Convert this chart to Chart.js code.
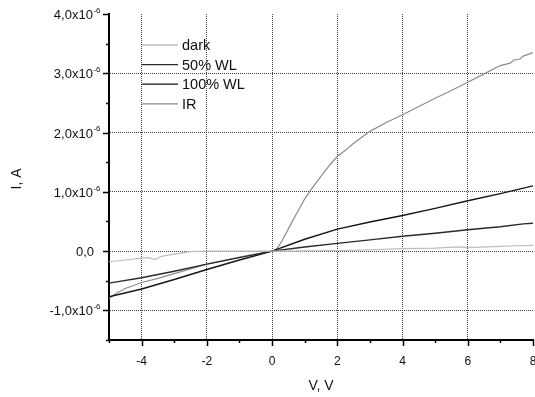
<!DOCTYPE html>
<html>
<head>
<meta charset="utf-8">
<script src="https://cdn.jsdelivr.net/npm/chart.js@4/dist/chart.umd.min.js"></script>
<style>
  html, body { margin: 0; padding: 0; background: #fff; }
  #wrap { width: 535px; height: 397px; }
</style>
</head>
<body>
<div id="wrap"><canvas id="iv"></canvas></div>
<script>
// current in units of 1e-6 A, voltage in V
const darkV = [-5, -4.5, -4, -3.8, -3.6, -3.5, -3.4, -3, -2.5, -2, -1, 0, 1, 2, 3, 4, 5, 5.7, 6, 7, 7.5, 8];
const darkI = [-0.18, -0.15, -0.12, -0.11, -0.14, -0.12, -0.09, -0.05, -0.01, 0, 0, 0, 0.005, 0.01, 0.02, 0.04, 0.05, 0.07, 0.06, 0.08, 0.09, 0.095];

const wl50V = [-5, -4, -3, -2, -1, 0, 1, 2, 3, 4, 5, 6, 7, 7.7, 8];
const wl50I = [-0.54, -0.45, -0.34, -0.22, -0.11, 0, 0.07, 0.13, 0.19, 0.25, 0.30, 0.36, 0.41, 0.46, 0.47];

const wl100V = [-5, -4, -3, -2, -1, 0, 1, 2, 3, 4, 5, 6, 7, 8];
const wl100I = [-0.77, -0.64, -0.48, -0.31, -0.15, 0, 0.2, 0.37, 0.49, 0.6, 0.72, 0.85, 0.97, 1.1];

const irV = [-5, -4.8, -4.5, -4, -3.5, -3, -2.5, -2, -1.5, -1, -0.5, 0, 0.1, 0.2, 0.3, 0.4, 0.6, 0.8, 1, 1.25, 1.5, 1.75, 2, 2.25, 2.5, 3, 3.5, 4, 4.5, 5, 5.5, 6, 6.5, 7, 7.3, 7.4, 7.6, 7.7, 8];
const irI = [-0.8, -0.72, -0.63, -0.53, -0.46, -0.38, -0.3, -0.22, -0.16, -0.1, -0.05, 0, 0.02, 0.08, 0.17, 0.27, 0.48, 0.68, 0.88, 1.08, 1.26, 1.44, 1.6, 1.7, 1.82, 2.02, 2.17, 2.3, 2.44, 2.58, 2.71, 2.85, 2.99, 3.13, 3.17, 3.22, 3.24, 3.29, 3.35];

const seriesNames = ['dark', '50% WL', '100% WL', 'IR'];
const xTickLabels = ['-4', '-2', '0', '2', '4', '6', '8'];
const yTickLabels = ['-1,0x10', '0,0', '1,0x10', '2,0x10', '3,0x10', '4,0x10'];

const FONT = 'Arial, "Liberation Sans", sans-serif';
const pts = (xs, ys) => xs.map((x, i) => ({ x: x, y: ys[i] }));

// ticks, tick labels and legend drawn by hand (superscripts, inner legend)
const decor = {
  id: 'decor',
  afterDraw(chart) {
    const c = chart.ctx, a = chart.chartArea;
    const xs = chart.scales.x, ys = chart.scales.y;
    c.save();
    c.strokeStyle = '#000';
    c.lineWidth = 1.5;
    xs.ticks.forEach(t => {
      const px = Math.round(xs.getPixelForValue(t.value)) + 0.5;
      const len = t.value % 2 === 0 ? 6 : 3;
      c.beginPath(); c.moveTo(px, a.bottom); c.lineTo(px, a.bottom + len); c.stroke();
    });
    ys.ticks.forEach(t => {
      const py = Math.round(ys.getPixelForValue(t.value)) + 0.5;
      const len = Number.isInteger(t.value) ? 6 : 3;
      c.beginPath(); c.moveTo(a.left, py); c.lineTo(a.left - len, py); c.stroke();
    });

    c.fillStyle = '#111';
    c.font = '12px ' + FONT;
    c.textAlign = 'center';
    c.textBaseline = 'middle';
    xTickLabels.forEach(s => {
      c.fillText(s, xs.getPixelForValue(Number(s)), a.bottom + 22);
    });

    c.textAlign = 'left';
    yTickLabels.forEach((s, i) => {
      const v = i - 1;
      const py = ys.getPixelForValue(v) + 1.5;
      c.font = '13px ' + FONT;
      const w1 = c.measureText(s).width;
      if (v === 0) { c.fillText(s, a.left - 15 - w1, py); return; }
      c.font = '8px ' + FONT;
      const w2 = c.measureText('-6').width;
      const x0 = a.left - 9 - w1 - w2;
      c.font = '13px ' + FONT;
      c.fillText(s, x0, py);
      c.font = '8px ' + FONT;
      c.fillText('-6', x0 + w1 + 0.5, py - 5);
    });

    c.font = '14px ' + FONT;
    c.textAlign = 'center';
    c.fillText('V, V', (a.left + a.right) / 2, a.bottom + 46);
    c.save();
    c.translate(17, (a.top + a.bottom) / 2 + 2);
    c.rotate(-Math.PI / 2);
    c.fillText('I, A', 0, 0);
    c.restore();

    c.font = '14.5px ' + FONT;
    c.textAlign = 'left';
    chart.data.datasets.forEach((ds, i) => {
      const ly = 45 + i * 19.6;
      c.strokeStyle = ds.borderColor;
      c.lineWidth = 1.3;
      c.beginPath(); c.moveTo(142, ly); c.lineTo(178, ly); c.stroke();
      c.fillStyle = '#111';
      c.fillText(ds.label, 182, ly + 1);
    });
    c.restore();
  }
};

new Chart(document.getElementById('iv'), {
  type: 'line',
  data: {
    datasets: [
      { label: seriesNames[0], data: pts(darkV, darkI), borderColor: '#bdbdbd', borderWidth: 1.2 },
      { label: seriesNames[1], data: pts(wl50V, wl50I), borderColor: '#2a2a2a', borderWidth: 1.4 },
      { label: seriesNames[2], data: pts(wl100V, wl100I), borderColor: '#161616', borderWidth: 1.4 },
      { label: seriesNames[3], data: pts(irV, irI), borderColor: '#8c8c8c', borderWidth: 1.2 }
    ]
  },
  options: {
    responsive: true,
    maintainAspectRatio: false,
    animation: false,
    elements: { point: { radius: 0 }, line: { tension: 0 } },
    layout: { padding: { left: 109, right: 2, top: 14, bottom: 57 } },
    plugins: { legend: { display: false }, tooltip: { enabled: false } },
    scales: {
      x: {
        type: 'linear', min: -5, max: 8,
        ticks: { stepSize: 1, display: false },
        grid: {
          drawTicks: false,
          color: ctx => (ctx.tick && ctx.tick.value % 2 === 0 && ctx.tick.value > -5 && ctx.tick.value < 8) ? '#444' : 'rgba(0,0,0,0)'
        },
        border: { color: '#000', width: 2, dash: [1, 1] }
      },
      y: {
        type: 'linear', min: -1.5, max: 4,
        ticks: { stepSize: 0.5, display: false },
        grid: {
          drawTicks: false,
          color: ctx => (ctx.tick && Number.isInteger(ctx.tick.value) && ctx.tick.value < 4) ? '#444' : 'rgba(0,0,0,0)'
        },
        border: { color: '#000', width: 2, dash: [1, 1] }
      }
    }
  },
  plugins: [decor]
});
</script>
</body>
</html>
